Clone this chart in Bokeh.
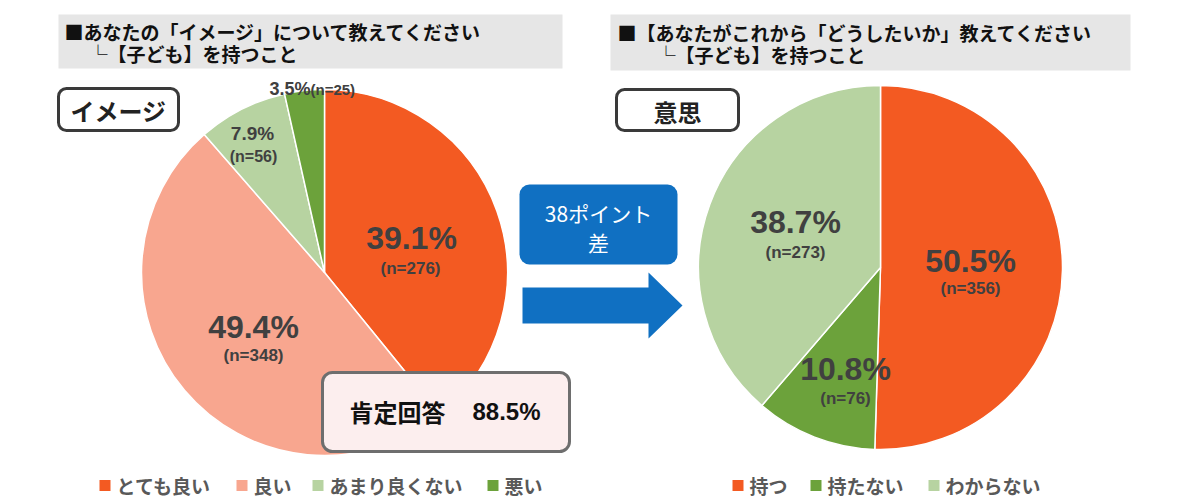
import numpy as np
from bokeh.plotting import figure
from bokeh.models import Range1d, ColumnDataSource
from bokeh.core.properties import value
from bokeh.embed import file_html
from bokeh.resources import INLINE

# ---------------- data ----------------
image_cats = ["とても良い", "良い", "あまり良くない", "悪い"]
image_pct = [39.1, 49.4, 7.9, 3.5]
image_n = [276, 348, 56, 25]
image_colors = ["#F35A22", "#F8A68F", "#B7D3A1", "#6CA23B"]

intent_cats = ["持つ", "持たない", "わからない"]
intent_pct = [50.5, 10.8, 38.7]
intent_n = [356, 76, 273]
intent_colors = ["#F35A22", "#6CA23B", "#B7D3A1"]

positive_label = "肯定回答"
positive_pct = 88.5
diff_points = 38

title_left = ["■あなたの「イメージ」について教えてください", "└【子ども】を持つこと"]
title_right = ["■【あなたがこれから「どうしたいか」教えてください", "└【子ども】を持つこと"]

W, H = 1200, 504
JP = value("Noto Sans CJK JP")
NUM = value("Liberation Sans")
LBL = "#404040"


def Y(y):
    return H - y


p = figure(width=W, height=H, x_range=Range1d(0, W), y_range=Range1d(0, H),
           output_backend="svg", toolbar_location=None,
           x_axis_location=None, y_axis_location=None, min_border=0)
p.grid.visible = False
p.outline_line_color = None
p.background_fill_color = "white"


def box(l, r_, t, b, fill, line=None, lw=0, radius=0):
    p.quad(left=[l], right=[r_], top=[Y(t)], bottom=[Y(b)], fill_color=fill,
           line_color=line, line_width=lw, border_radius=radius)


def draw_pie(cx, cy, r, pct, colors):
    frac = np.array(pct) / sum(pct)
    cum = np.concatenate([[0], np.cumsum(frac)])
    start = np.pi / 2 - 2 * np.pi * cum[:-1]
    end = np.pi / 2 - 2 * np.pi * cum[1:]
    src = ColumnDataSource(dict(x=[cx] * len(pct), y=[Y(cy)] * len(pct),
                                s=list(start), e=list(end), c=colors))
    p.wedge(x="x", y="y", radius=r, start_angle="s", end_angle="e",
            direction="clock", fill_color="c", line_color="white",
            line_width=1.5, source=src)


def txt(x, y, t, size, color=LBL, font=NUM, style="bold", align="center", baseline="middle"):
    p.text(x=[x], y=[Y(y)], text=[t], text_font=font, text_font_size=f"{size}px",
           text_font_style=style, text_color=color, text_align=align,
           text_baseline=baseline)


# title boxes
box(58, 562, 14, 68, "#E6E6E6")
box(610, 1130, 14, 70, "#E6E6E6")
txt(64, 31, title_left[0], 19, color="#111111", font=JP, align="left")
txt(88, 53, title_left[1], 19, color="#111111", font=JP, align="left")
txt(617, 32, title_right[0], 19, color="#111111", font=JP, align="left")
txt(656, 54, title_right[1], 19, color="#111111", font=JP, align="left")

draw_pie(324, 272, 183, image_pct, image_colors)
draw_pie(880, 267, 182, intent_pct, intent_colors)

# tag boxes
for l, r_, t, b, label in [(58, 178, 88, 130, "イメージ"), (616, 738, 89, 130, "意思")]:
    box(l, r_, t, b, "white", "#3A3A3A", 3, 8)
    txt((l + r_) / 2, (t + b) / 2 + 1, label, 24, color="#222222", font=JP)

# left pie labels
txt(411, 237, f"{image_pct[0]}%", 32)
txt(410, 268, f"(n={image_n[0]})", 17)
txt(253, 326, f"{image_pct[1]}%", 32)
txt(253, 355, f"(n={image_n[1]})", 17)
txt(252, 133, f"{image_pct[2]}%", 19)
txt(253, 156, f"(n={image_n[2]})", 16)
txt(310, 88, f"{image_pct[3]}%", 18, align="right")
txt(310, 89, f"(n={image_n[3]})", 15, align="left")

# right pie labels
txt(970, 260, f"{intent_pct[0]}%", 32)
txt(970, 288, f"(n={intent_n[0]})", 17)
txt(845, 368, f"{intent_pct[1]}%", 32)
txt(845, 398, f"(n={intent_n[1]})", 17)
txt(795, 221, f"{intent_pct[2]}%", 32)
txt(795, 252, f"(n={intent_n[2]})", 17)

# positive answer box
box(322, 569, 372, 451, "#FCEEEE", "#6E6E6E", 3, 10)
txt(397, 411, positive_label, 24, color="#111111", font=JP)
txt(506, 411, f"{positive_pct}%", 24, color="#111111")

# blue difference box and arrow
box(519, 677, 184, 264, "#1070C2", None, 0, 10)
txt(598, 212, f"{diff_points}ポイント", 21, color="white", font=JP, style="normal")
txt(598, 241, "差", 21, color="white", font=JP, style="normal")
p.patch(x=[522, 648, 648, 682, 648, 648, 522],
        y=[Y(287), Y(287), Y(272), Y(305), Y(338), Y(323), Y(323)],
        fill_color="#1070C2", line_color=None)


# legends
def legend(xs, cats, colors):
    for x0, c, col in zip(xs, cats, colors):
        p.rect(x=[x0 + 5.5], y=[Y(485)], width=11, height=11, fill_color=col, line_color=None)
        txt(x0 + 17, 485, c, 19, color="#595959", font=JP, align="left")


legend([99, 236, 312, 487], image_cats, image_colors)
legend([732, 810, 928], intent_cats, intent_colors)

open("out.html", "w").write(file_html(p, INLINE))
